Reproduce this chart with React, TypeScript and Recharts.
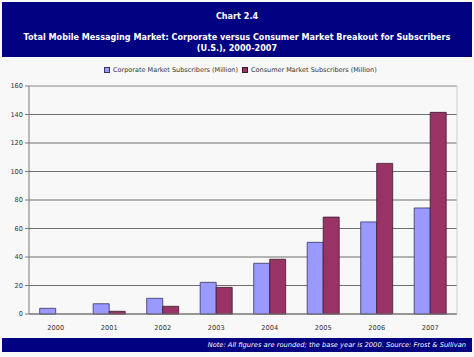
import React from "react";
import { BarChart, Bar, XAxis, YAxis, CartesianGrid, ReferenceLine } from "recharts";

const years = ["2000", "2001", "2002", "2003", "2004", "2005", "2006", "2007"];
const corporate = [4, 7.2, 11, 22.2, 35.6, 50.3, 64.6, 74.4];
const consumer = [0, 1.9, 5.4, 18.7, 38.4, 68, 105.7, 141.5];
const yTicks = [0, 20, 40, 60, 80, 100, 120, 140, 160];
const seriesNames = ["Corporate Market Subscribers (Million)", "Consumer Market Subscribers (Million)"];

const data = years.map((y, i) => ({ year: y, corporate: corporate[i], consumer: consumer[i] }));

const FONT = "'DejaVu Sans', Verdana, sans-serif";

export default function App() {
  return (
    <div style={{ position: "absolute", left: 0, top: 0, width: 474, height: 357, background: "#f8f8f8", fontFamily: FONT, overflow: "hidden" }}>
      <BarChart
        width={474}
        height={357}
        data={data}
        margin={{ top: 86, right: 0, bottom: 23, left: 0 }}
        barCategoryGap="20%"
        barGap={0}
      >
        <CartesianGrid vertical={false} stroke="#6f6f6f" strokeWidth={1} />
        <XAxis
          dataKey="year"
          height={20}
          tickLine={false}
          axisLine={{ stroke: "#7a7a7a" }}
          tick={{ fontSize: 6.6, fill: "#333", fontFamily: FONT }}
          tickMargin={5}
        />
        <XAxis
          xAxisId="b"
          type="number"
          domain={[0, 8]}
          ticks={[0, 1, 2, 3, 4, 5, 6, 7, 8]}
          height={0}
          axisLine={false}
          tick={false}
          tickLine={{ stroke: "#7a7a7a" }}
          tickSize={4}
          orientation="bottom"
        />
        <YAxis
          width={29}
          domain={[0, 160]}
          ticks={yTicks}
          interval={0}
          axisLine={{ stroke: "#7a7a7a" }}
          tickLine={{ stroke: "#7a7a7a" }}
          tickSize={4}
          tick={{ fontSize: 6.6, fill: "#333", fontFamily: FONT }}
        />
        <YAxis
          yAxisId="r"
          orientation="right"
          width={17}
          domain={[0, 160]}
          tick={false}
          tickLine={false}
          axisLine={{ stroke: "#cfcfcf" }}
        />
        <ReferenceLine y={160} stroke="#cfcfcf" />
        <Bar dataKey="corporate" name={seriesNames[0]} fill="#9999ff" stroke="#333366" strokeWidth={0.8} isAnimationActive={false} />
        <Bar dataKey="consumer" name={seriesNames[1]} fill="#993366" stroke="#3a1a2e" strokeWidth={0.8} isAnimationActive={false} />
      </BarChart>

      <div style={{ position: "absolute", left: 2, top: 2, width: 470, height: 55, background: "#000080", color: "#fff", fontWeight: "bold", textAlign: "center", fontSize: 8.1 }}>
        <div style={{ position: "absolute", left: 0, right: 0, top: 9, lineHeight: "10px" }}>Chart 2.4</div>
        <div style={{ position: "absolute", left: 0, right: 0, top: 30, lineHeight: "11px" }}>
          Total Mobile Messaging Market: Corporate versus Consumer Market Breakout for Subscribers
          <br />
          (U.S.), 2000-2007
        </div>
      </div>

      <div style={{ position: "absolute", left: 104, top: 65, height: 10, display: "flex", alignItems: "center", fontSize: 6.5, color: "#333", whiteSpace: "nowrap" }}>
        <span style={{ display: "inline-block", width: 4, height: 4, background: "#9999ff", border: "0.8px solid #333366", marginRight: 3 }} />
        <span style={{ marginRight: 4 }}>{seriesNames[0]}</span>
        <span style={{ display: "inline-block", width: 4, height: 4, background: "#993366", border: "0.8px solid #3a1a2e", marginRight: 3 }} />
        <span>{seriesNames[1]}</span>
      </div>

      <div style={{ position: "absolute", left: 2, top: 338, width: 470, height: 14, background: "#000080", color: "#fff", fontStyle: "italic", fontSize: 6.7, textAlign: "right", lineHeight: "14px" }}>
        <span style={{ paddingRight: 6 }}>Note: All figures are rounded; the base year is 2000. Source: Frost &amp; Sullivan</span>
      </div>
    </div>
  );
}
